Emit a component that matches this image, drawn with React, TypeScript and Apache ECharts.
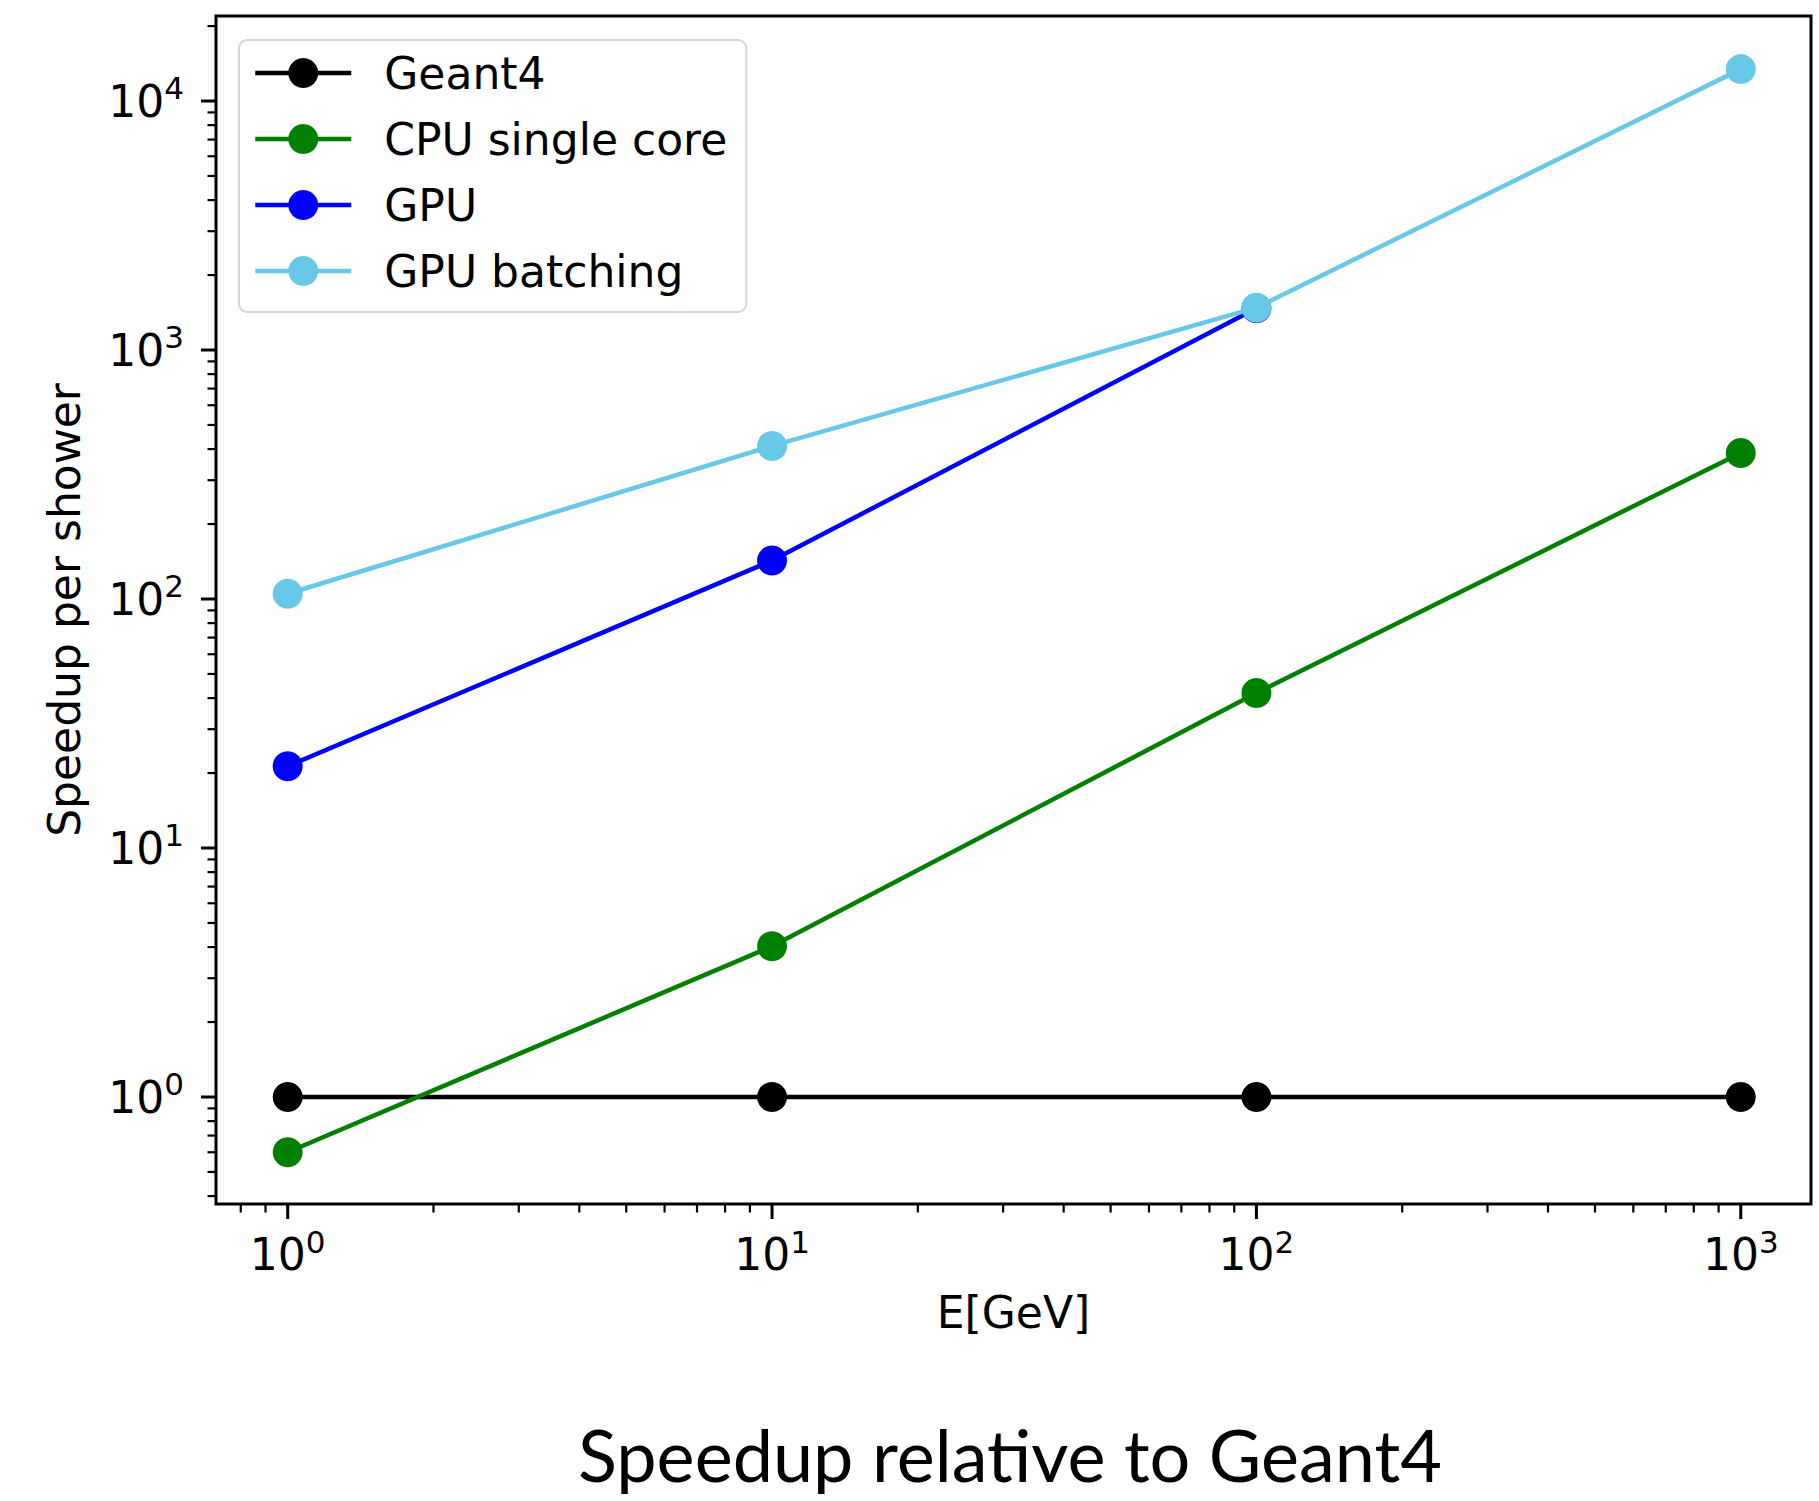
import React, { useEffect, useRef } from "react";
import * as echarts from "echarts";

// ---- data ----
const energies = [1, 10, 100, 1000];
const geant4 = [1, 1, 1, 1];
const cpuSingleCore = [0.6, 4.03, 41.9, 386];
const gpu = [21.3, 142.7, 1470];
const gpuBatching = [105, 412, 1479, 13430];

const seriesNames = ["Geant4", "CPU single core", "GPU", "GPU batching"];
const seriesColors = ["#000000", "#008000", "#0000ff", "#68c8e8"];

const xMajorTicks = [1, 10, 100, 1000];
const yMajorTicks = [1, 10, 100, 1000, 10000];
const minorMultipliers = [2, 3, 4, 5, 6, 7, 8, 9];

const X_MIN = Math.pow(10, -0.148);
const X_MAX = Math.pow(10, 3.145);
const Y_MIN = Math.pow(10, -0.4297);
const Y_MAX = Math.pow(10, 4.3414);

const title = "Speedup relative to Geant4";
const xName = "E[GeV]";
const yName = "Speedup per shower";

const FONT = "DejaVu Sans";
const FS = 44;

function minorTicks(min: number, max: number): number[] {
  const out: number[] = [];
  for (let e = Math.floor(Math.log10(min)) - 1; e <= Math.ceil(Math.log10(max)); e++) {
    for (const m of minorMultipliers) {
      const v = m * Math.pow(10, e);
      if (v > min && v < max) out.push(v);
    }
  }
  return out;
}

function supLabel(v: number): string {
  const e = Math.log10(v);
  const r = Math.round(e);
  if (Math.abs(e - r) > 1e-6) return "";
  return `{b|10}{s|${r}}`;
}

const richLabel = {
  b: { fontSize: FS, fontFamily: FONT, color: "#000" },
  s: { fontSize: 31, fontFamily: FONT, color: "#000", padding: [0, 0, 26, 0] },
};

export default function App() {
  const ref = useRef<HTMLDivElement>(null);
  useEffect(() => {
    if (!ref.current) return;
    const chart = echarts.init(ref.current, null, { renderer: "svg" });

    const tickData: number[][] = [];
    xMajorTicks.forEach((v) => tickData.push([v, Y_MIN, 0]));
    minorTicks(X_MIN, X_MAX).forEach((v) => tickData.push([v, Y_MIN, 1]));
    yMajorTicks.forEach((v) => tickData.push([X_MIN, v, 2]));
    minorTicks(Y_MIN, Y_MAX).forEach((v) => tickData.push([X_MIN, v, 3]));

    const allValues = [geant4, cpuSingleCore, gpu, gpuBatching];

    const lineSeries = allValues.map((vals, i) => ({
      name: seriesNames[i],
      type: "line",
      data: vals.map((v, j) => [energies[j], v]),
      symbol: "circle",
      symbolSize: 30,
      showSymbol: true,
      lineStyle: { color: seriesColors[i], width: 4.5 },
      itemStyle: { color: seriesColors[i], borderWidth: 0 },
      emphasis: { disabled: true },
      z: 3 + i,
    }));

    chart.setOption({
      animation: false,
      backgroundColor: "#ffffff",
      grid: {
        left: 216,
        top: 16,
        width: 1595,
        height: 1188,
        show: true,
        borderColor: "#000",
        borderWidth: 3,
        backgroundColor: "transparent",
        containLabel: false,
      },
      graphic: [
        {
          type: "text",
          x: 1010,
          y: 1454,
          style: {
            text: title,
            fontFamily: "Lato",
            fontSize: 72,
            fill: "#000",
            align: "center",
            verticalAlign: "middle",
          },
        },
      ],
      legend: {
        data: seriesNames,
        orient: "vertical",
        left: 239,
        top: 40,
        itemWidth: 96,
        itemHeight: 37.5,
        itemGap: 16,
        padding: [8, 19, 16, 14],
        borderColor: "#d6d6d6",
        borderWidth: 2,
        borderRadius: 8,
        backgroundColor: "rgba(255,255,255,0.8)",
        selectedMode: false,
        lineStyle: { width: 4.5 },
        textStyle: {
          fontFamily: FONT,
          fontSize: FS,
          color: "#000",
          lineHeight: 50,
          padding: [0, 0, 0, 28],
        },
      },
      xAxis: {
        type: "log",
        logBase: 10,
        min: X_MIN,
        max: X_MAX,
        name: xName,
        nameLocation: "middle",
        nameGap: 86,
        nameTextStyle: { fontFamily: FONT, fontSize: FS, color: "#000" },
        axisLine: { show: false },
        axisTick: { show: false },
        splitLine: { show: false },
        minorTick: { show: false },
        axisLabel: {
          margin: 22,
          formatter: supLabel,
          rich: richLabel,
          showMinLabel: false,
          showMaxLabel: false,
        },
      },
      yAxis: {
        type: "log",
        logBase: 10,
        min: Y_MIN,
        max: Y_MAX,
        name: yName,
        nameLocation: "middle",
        nameGap: 130,
        nameTextStyle: { fontFamily: FONT, fontSize: FS, color: "#000" },
        axisLine: { show: false },
        axisTick: { show: false },
        splitLine: { show: false },
        minorTick: { show: false },
        axisLabel: {
          margin: 32,
          formatter: supLabel,
          rich: richLabel,
          showMinLabel: false,
          showMaxLabel: false,
        },
      },
      series: [
        {
          type: "custom",
          name: "ticks",
          silent: true,
          clip: false,
          data: tickData,
          z: 10,
          renderItem: (params: any, api: any) => {
            const kind = api.value(2);
            const p = api.coord([api.value(0), api.value(1)]);
            const major = kind === 0 || kind === 2;
            const len = major ? 15 : 8.5;
            const isX = kind < 2;
            const shape = isX
              ? { x1: p[0], y1: p[1], x2: p[0], y2: p[1] + len }
              : { x1: p[0] - len, y1: p[1], x2: p[0], y2: p[1] };
            return {
              type: "line",
              shape,
              style: { stroke: "#000", lineWidth: major ? 3 : 2.2 },
              silent: true,
            };
          },
        },
        ...lineSeries,
      ],
    });
    return () => chart.dispose();
  }, []);
  return (
    <div
      ref={ref}
      style={{ position: "absolute", left: 0, top: 0, width: 1819, height: 1501, background: "#fff" }}
    />
  );
}
